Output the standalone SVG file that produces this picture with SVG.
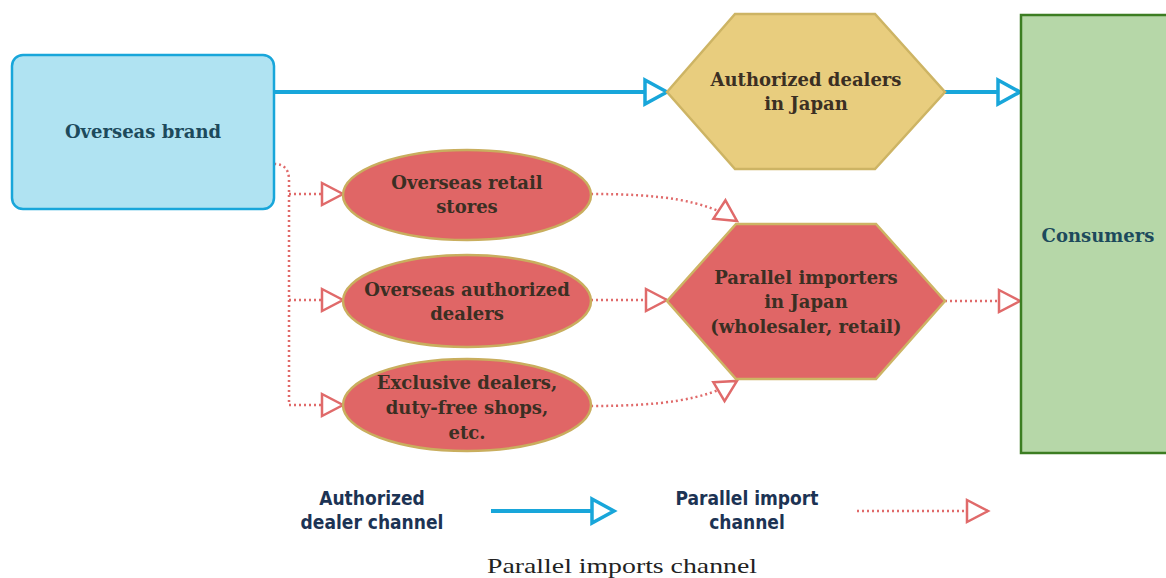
<svg xmlns="http://www.w3.org/2000/svg" width="1166" height="578" viewBox="0 0 1166 578">
<style>
.nt{font-family:"DejaVu Serif","Liberation Serif",serif;font-size:18px;font-weight:bold;text-anchor:middle}
.dark{fill:#3b2f23}
.teal{fill:#1d4a5c}
.blue{fill:none;stroke:#18a6da;stroke-width:4}
.red{fill:none;stroke:#e06a6a;stroke-width:2.5;stroke-dasharray:2 3}
.lg{font-family:"DejaVu Sans","Liberation Sans",sans-serif;font-stretch:condensed;font-weight:bold;font-size:19px;fill:#1c3354;text-anchor:middle}
</style>
<defs>
<marker id="ab" markerUnits="userSpaceOnUse" markerWidth="30" markerHeight="32" refX="24" refY="14" orient="auto" overflow="visible">
<path d="M2,2 L24,14 L2,26 Z" fill="#fff" stroke="#18a6da" stroke-width="3.5" stroke-linejoin="miter"/>
</marker>
<marker id="ar" markerUnits="userSpaceOnUse" markerWidth="30" markerHeight="32" refX="23" refY="13" orient="auto" overflow="visible">
<path d="M2,2 L23,13 L2,24 Z" fill="#fff" stroke="#e06a6a" stroke-width="2.5"/>
</marker>
</defs>
<rect width="1166" height="578" fill="#fff"/>

<g id="connectors">
<path class="blue" d="M274,92 H667" marker-end="url(#ab)"/>
<path class="blue" d="M945,92 H1020" marker-end="url(#ab)"/>
<path class="red" d="M274,164 Q289,164 289,180 V405"/>
<path class="red" d="M289,194 H343" marker-end="url(#ar)"/>
<path class="red" d="M289,300 H343" marker-end="url(#ar)"/>
<path class="red" d="M289,405 H343" marker-end="url(#ar)"/>
<path class="red" d="M591,194 C660,194 705,200 737,221" marker-end="url(#ar)"/>
<path class="red" d="M591,300 H667" marker-end="url(#ar)"/>
<path class="red" d="M591,406 C660,406 705,400 737,381" marker-end="url(#ar)"/>
<path class="red" d="M945,301 H1020" marker-end="url(#ar)"/>
</g>

<g id="overseas-brand">
<rect x="12" y="55" width="262" height="154" rx="11" fill="#b0e3f2" stroke="#18a6da" stroke-width="2.5"/>
<text class="nt teal" x="143" y="138">Overseas brand</text>
</g>

<g id="authorized-dealers-japan">
<polygon points="667,92 735,14 875,14 945,92 875,169 735,169" fill="#e8cd7e" stroke="#cdb464" stroke-width="2.5"/>
<text class="nt dark" x="806" y="86">Authorized dealers</text>
<text class="nt dark" x="806" y="110">in Japan</text>
</g>

<g id="consumers">
<rect x="1021" y="15" width="160" height="438" fill="#b6d7a8" stroke="#3c7d22" stroke-width="2.5"/>
<text class="nt teal" x="1098" y="242">Consumers</text>
</g>

<g id="overseas-retail">
<ellipse cx="467" cy="195" rx="124" ry="45" fill="#e06666" stroke="#c9ae5e" stroke-width="2.5"/>
<text class="nt dark" x="467" y="189">Overseas retail</text>
<text class="nt dark" x="467" y="213">stores</text>
</g>

<g id="overseas-authorized">
<ellipse cx="467" cy="301" rx="124" ry="46" fill="#e06666" stroke="#c9ae5e" stroke-width="2.5"/>
<text class="nt dark" x="467" y="296">Overseas authorized</text>
<text class="nt dark" x="467" y="320">dealers</text>
</g>

<g id="exclusive-dealers">
<ellipse cx="467" cy="405" rx="124" ry="46" fill="#e06666" stroke="#c9ae5e" stroke-width="2.5"/>
<text class="nt dark" x="467" y="389">Exclusive dealers,</text>
<text class="nt dark" x="467" y="414">duty-free shops,</text>
<text class="nt dark" x="467" y="439">etc.</text>
</g>

<g id="parallel-importers">
<polygon points="667,301 736,224 876,224 945,301 876,379 736,379" fill="#e06666" stroke="#cdb464" stroke-width="2.5"/>
<text class="nt dark" x="806" y="284">Parallel importers</text>
<text class="nt dark" x="806" y="308">in Japan</text>
<text class="nt dark" x="806" y="333">(wholesaler, retail)</text>
</g>

<g id="legend">
<text class="lg" x="372" y="505">Authorized</text>
<text class="lg" x="372" y="529">dealer channel</text>
<path class="blue" d="M491,511 H614" marker-end="url(#ab)"/>
<text class="lg" x="747" y="505">Parallel import</text>
<text class="lg" x="747" y="529">channel</text>
<path class="red" d="M857,511 H988" marker-end="url(#ar)"/>
</g>

<text x="622" y="573" font-family="Liberation Serif, serif" font-size="22" fill="#222" text-anchor="middle" textLength="270" lengthAdjust="spacingAndGlyphs">Parallel imports channel</text>
</svg>
